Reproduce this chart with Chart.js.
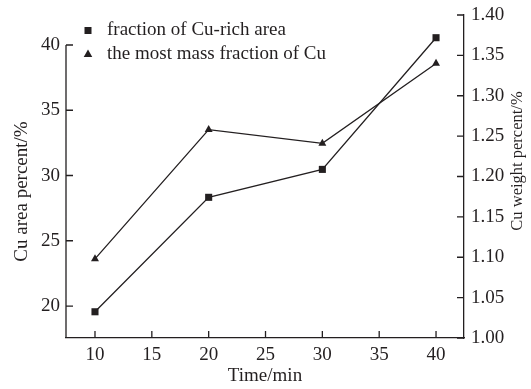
<!DOCTYPE html>
<html>
<head>
<meta charset="utf-8">
<script src="https://cdn.jsdelivr.net/npm/chart.js@4"></script>
<style>
  html, body { margin: 0; padding: 0; background: #fff; }
  #wrap { width: 531px; height: 389px; }
</style>
</head>
<body>
<div id="wrap"><canvas id="chart" width="531" height="389"></canvas></div>
<script>
// values
const times = [10, 20, 30, 40];
const areaPercent = [19.56, 28.33, 30.47, 40.56];
const weightPercent = [1.098, 1.258, 1.241, 1.340];

const timeTicks = [10, 15, 20, 25, 30, 35, 40];
const areaTicks = [20, 25, 30, 35, 40];
const weightTicks = [1.00, 1.05, 1.10, 1.15, 1.20, 1.25, 1.30, 1.35, 1.40];

const seriesNames = ['fraction of Cu-rich area', 'the most mass fraction of Cu'];

const ink = '#231f20';
const fontFamily = '"Liberation Serif", "Times New Roman", serif';
const font = { family: fontFamily, size: 19 };
const tickLen = 7;

// keep only the ticks that the figure shows
function fixTicks(list) {
  return function (scale) {
    scale.ticks = list.map(v => ({ value: v }));
  };
}

// inward tick marks, left axis line that stops at 40, axis titles
const axisDecor = {
  id: 'axisDecor',
  afterDraw(chart) {
    const ctx = chart.ctx;
    const x = chart.scales.x;
    const yl = chart.scales.yArea;
    const yr = chart.scales.yWeight;
    const top = yl.getPixelForValue(areaTicks[areaTicks.length - 1]);
    ctx.save();
    ctx.strokeStyle = ink;
    ctx.lineWidth = 1.3;
    ctx.beginPath();
    ctx.moveTo(x.left, top);
    ctx.lineTo(x.left, yl.bottom);
    timeTicks.forEach(v => {
      const px = x.getPixelForValue(v);
      ctx.moveTo(px, x.top);
      ctx.lineTo(px, x.top - tickLen);
    });
    areaTicks.forEach(v => {
      const py = yl.getPixelForValue(v);
      ctx.moveTo(yl.right, py);
      ctx.lineTo(yl.right + tickLen, py);
    });
    weightTicks.forEach(v => {
      const py = yr.getPixelForValue(v);
      ctx.moveTo(yr.left, py);
      ctx.lineTo(yr.left - tickLen, py);
    });
    ctx.stroke();

    ctx.fillStyle = ink;
    ctx.textAlign = 'center';
    ctx.textBaseline = 'middle';
    ctx.font = '19px ' + fontFamily;
    ctx.fillText('Time/min', (x.left + x.right) / 2, x.bottom - 13);

    ctx.save();
    ctx.translate(yl.left + 22, (top + yl.bottom) / 2);
    ctx.rotate(-Math.PI / 2);
    ctx.fillText('Cu area percent/%', 0, 0);
    ctx.restore();

    ctx.font = '16.5px ' + fontFamily;
    ctx.save();
    ctx.translate(yr.right - 13, 161);
    ctx.rotate(-Math.PI / 2);
    ctx.fillText('Cu weight percent/%', 0, 0);
    ctx.restore();
    ctx.restore();
  }
};

// nudge the legend to where the figure has it
const legendShift = {
  id: 'legendShift',
  afterLayout(chart) {
    chart.legend.left += 7.5;
    chart.legend.right += 7.5;
    chart.legend.top += 16;
    chart.legend.bottom += 16;
  }
};

// labels may hang over the plot edges, like in the figure
function noEdgePadding(scale) {
  scale.paddingTop = 0;
  scale.paddingBottom = 0;
  scale.paddingLeft = 0;
  scale.paddingRight = 0;
}

new Chart(document.getElementById('chart'), {
  type: 'line',
  data: {
    datasets: [
      {
        label: seriesNames[0],
        data: times.map((t, i) => ({ x: t, y: areaPercent[i] })),
        yAxisID: 'yArea',
        borderColor: ink,
        backgroundColor: ink,
        borderWidth: 1.3,
        pointStyle: 'rect',
        pointRadius: 5,
        pointBorderWidth: 0,
        tension: 0
      },
      {
        label: seriesNames[1],
        data: times.map((t, i) => ({ x: t, y: weightPercent[i] })),
        yAxisID: 'yWeight',
        borderColor: ink,
        backgroundColor: ink,
        borderWidth: 1.3,
        pointStyle: 'triangle',
        pointRadius: 4.6,
        pointBorderWidth: 0,
        tension: 0
      }
    ]
  },
  options: {
    responsive: false,
    animation: false,
    layout: { padding: { top: 15, left: 0, right: 0, bottom: 0 } },
    plugins: {
      legend: {
        position: 'chartArea',
        align: 'start',
        labels: {
          usePointStyle: true,
          boxWidth: 20,
          boxHeight: 7,
          padding: 5,
          color: ink,
          font: font
        }
      },
      tooltip: { enabled: false }
    },
    scales: {
      x: {
        type: 'linear',
        min: 7.45,
        max: 42.46,
        afterBuildTicks: fixTicks(timeTicks),
        afterFit(scale) { scale.height = 51; noEdgePadding(scale); },
        border: { color: ink, width: 1.3 },
        grid: { display: false, drawTicks: false },
        ticks: { color: ink, font: font, padding: 6, maxRotation: 0 }
      },
      yArea: {
        type: 'linear',
        position: 'left',
        min: 17.55,
        max: 42.30,
        afterBuildTicks: fixTicks(areaTicks),
        afterFit(scale) { scale.width = 66; noEdgePadding(scale); },
        border: { display: false },
        grid: { display: false, drawTicks: false },
        ticks: { color: ink, font: font, padding: 6 }
      },
      yWeight: {
        type: 'linear',
        position: 'right',
        min: 1.00,
        max: 1.40,
        afterBuildTicks: fixTicks(weightTicks),
        afterFit(scale) { scale.width = 67; noEdgePadding(scale); },
        border: { color: ink, width: 1.3 },
        grid: { display: false, drawTicks: false },
        ticks: {
          color: ink, font: font, padding: 7,
          callback: v => v.toFixed(2)
        }
      }
    }
  },
  plugins: [legendShift, axisDecor]
});
</script>
</body>
</html>
